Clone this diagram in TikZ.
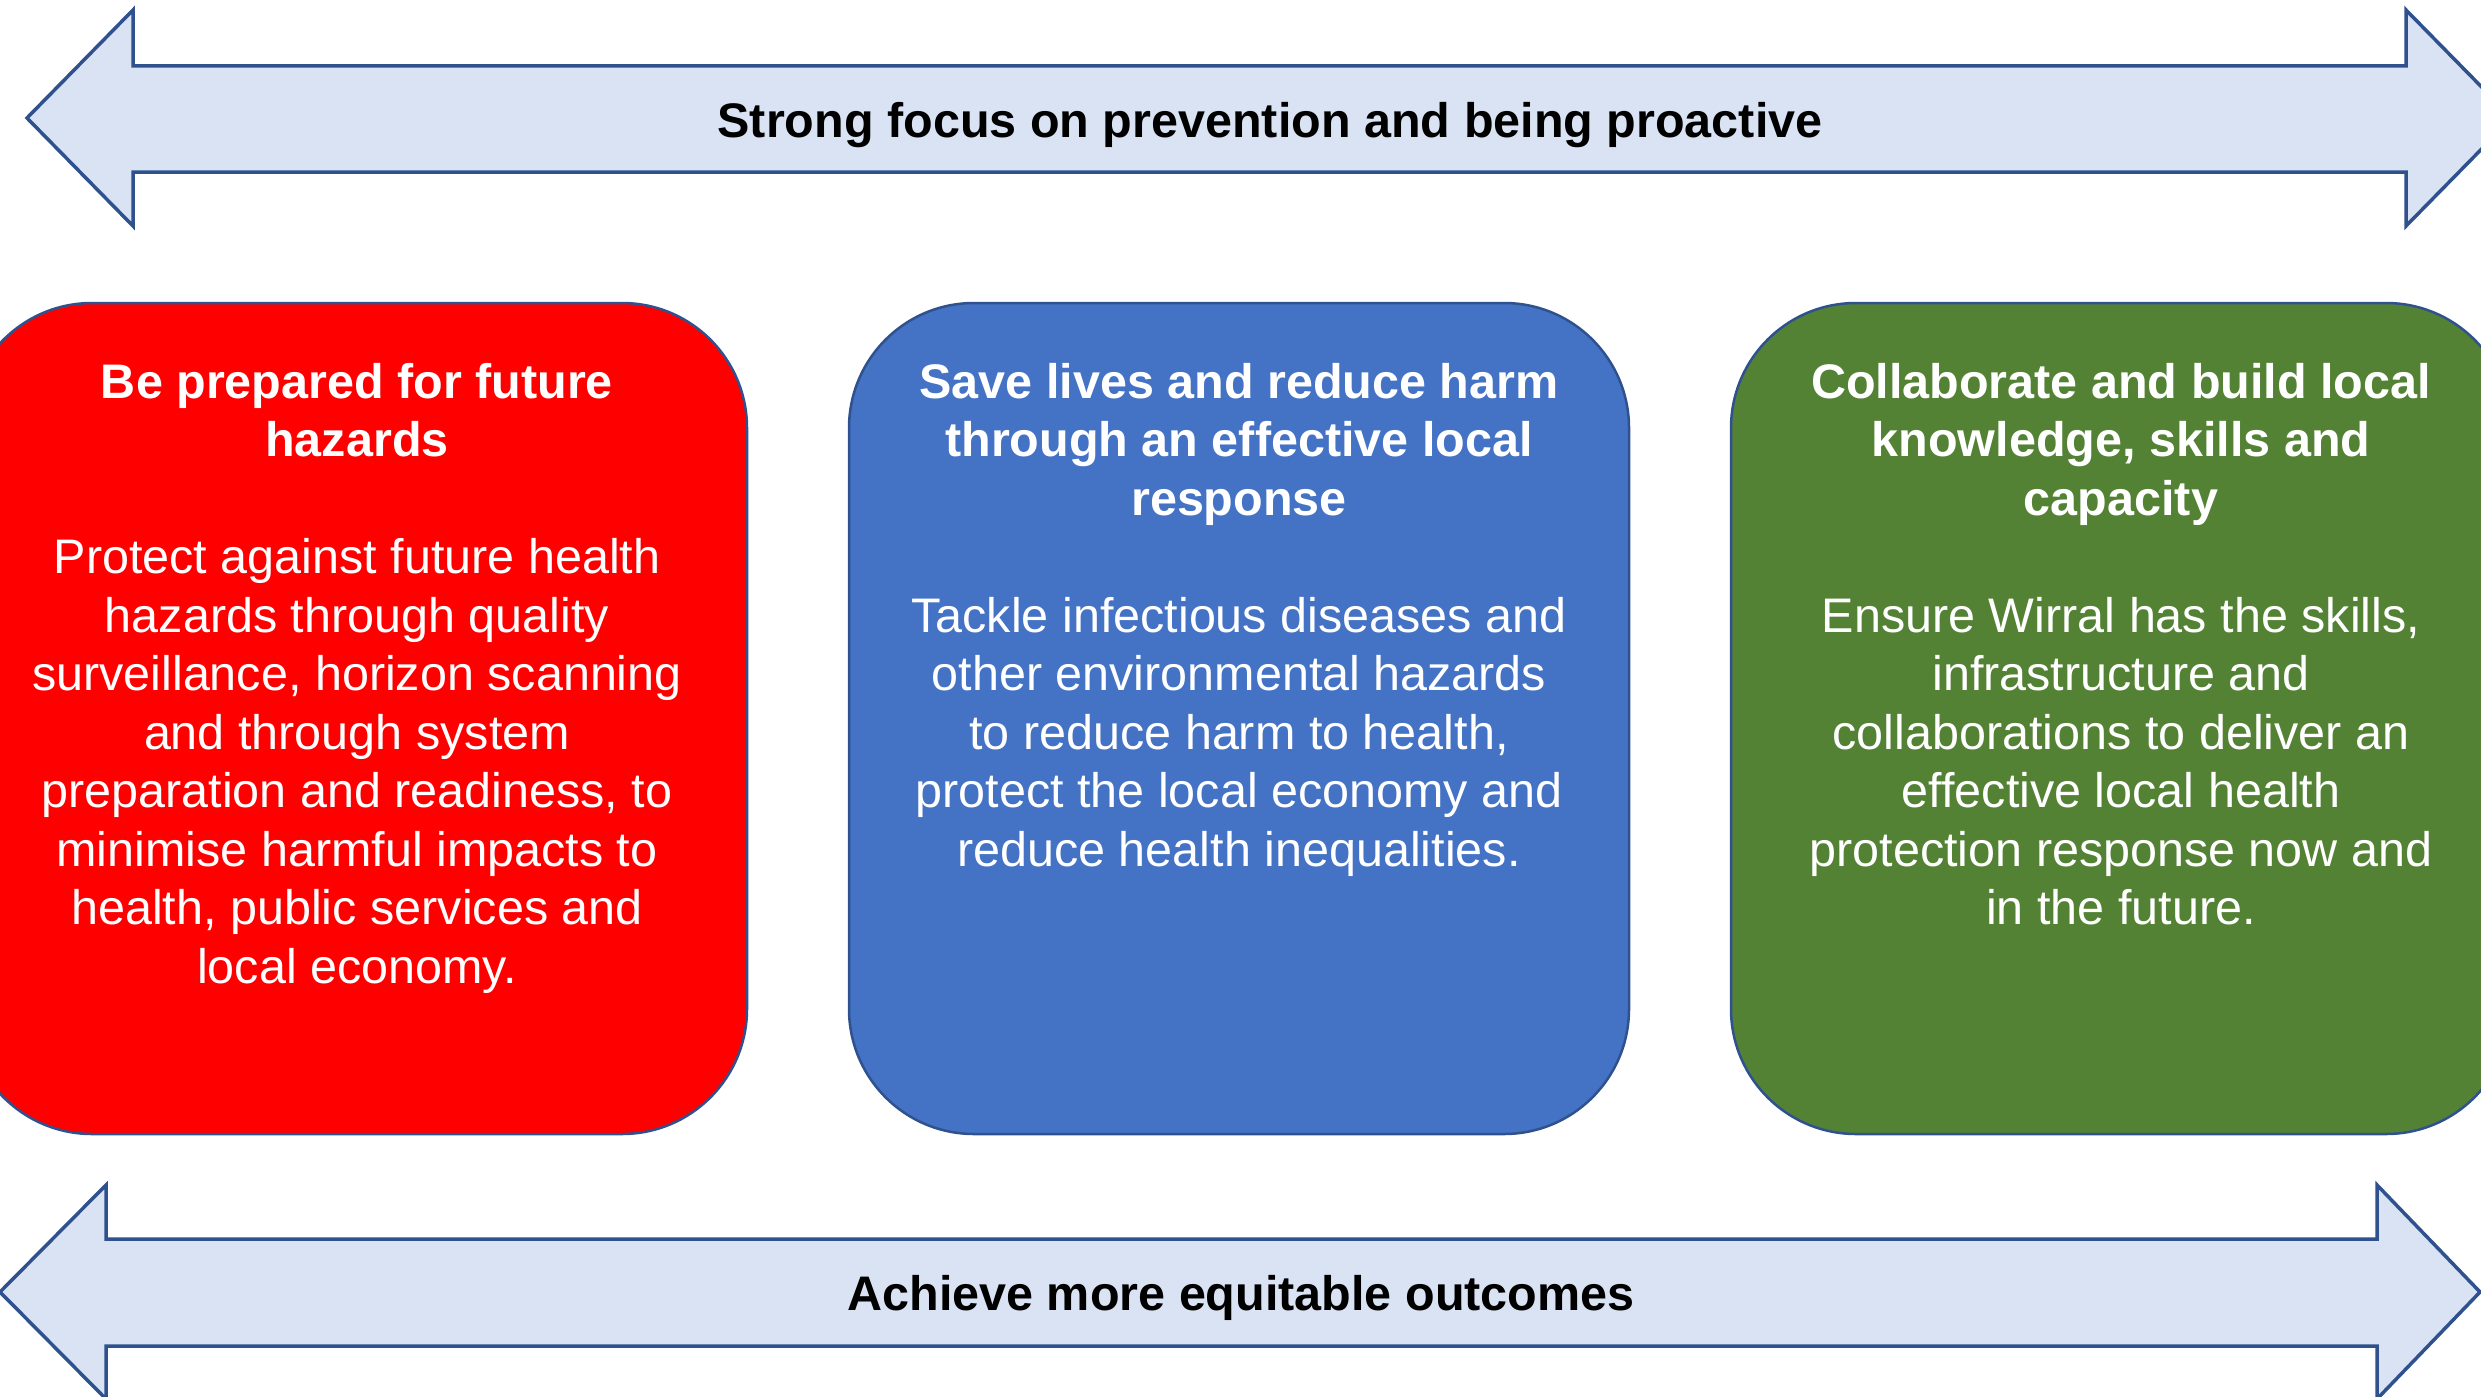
\documentclass[tikz,border=0pt]{standalone}
\usepackage{fontspec}
\setmainfont{Liberation Sans}
\definecolor{redbox}{HTML}{FF0000}
\definecolor{bluebox}{HTML}{4472C4}
\definecolor{greenbox}{HTML}{548235}
\definecolor{arrowfill}{HTML}{DAE3F3}
\definecolor{edgeblue}{HTML}{2F528F}
\tikzset{
  band/.style={fill=arrowfill, draw=edgeblue, line width=3.5pt, line join=miter},
  pillar/.style={draw=edgeblue, line width=2.5pt, rounded corners=125pt,
    minimum width=780pt, minimum height=831pt, inner sep=0pt},
  pillartext/.style={anchor=north, align=center, text=white, inner sep=0pt,
    font=\fontsize{48.5}{58.5}\selectfont},
  bandtext/.style={anchor=base, inner sep=0pt, text=black,
    font=\fontsize{48.5}{58.5}\selectfont\bfseries}
}
\begin{document}
\begin{tikzpicture}[x=1pt,y=-1pt]
\useasboundingbox (0,0) rectangle (2481,1397);
\clip (0,0) rectangle (2481,1397);
% top double arrow
\draw[band] (27,118) -- (133,10) -- (133,66) -- (2406,66) -- (2406,10) -- (2512,118)
  -- (2406,226) -- (2406,172) -- (133,172) -- (133,226) -- cycle;
\node[bandtext] (toptext) at (1270,137) {Strong focus on prevention and being proactive};
% bottom double arrow
\draw[band] (0,1292) -- (106,1185) -- (106,1239) -- (2377,1239) -- (2377,1185) -- (2480,1292)
  -- (2377,1399) -- (2377,1346) -- (106,1346) -- (106,1399) -- cycle;
\node[bandtext] (bottext) at (1241,1310) {Achieve more equitable outcomes};
% pillars
\node[pillar, fill=redbox] (red) at (357,718.5) {};
\node[pillar, fill=bluebox] (blue) at (1239,718.5) {};
\node[pillar, fill=greenbox] (green) at (2121,718.5) {};
\node[pillartext] (redtxt) at (357,357) {\strut\textbf{Be prepared for future}\\\textbf{hazards}\\[58.5pt]
Protect against future health\\hazards through quality\\surveillance, horizon scanning\\and through system\\preparation and readiness, to\\minimise harmful impacts to\\health, public services and\\local economy.};
\node[pillartext] (bluetxt) at (1239,357) {\strut\textbf{Save lives and reduce harm}\\\textbf{through an effective local}\\\textbf{response}\\[58.5pt]
Tackle infectious diseases and\\other environmental hazards\\to reduce harm to health,\\protect the local economy and\\reduce health inequalities.};
\node[pillartext] (greentxt) at (2121,357) {\strut\textbf{Collaborate and build local}\\\textbf{knowledge, skills and}\\\textbf{capacity}\\[58.5pt]
Ensure Wirral has the skills,\\infrastructure and\\collaborations to deliver an\\effective local health\\protection response now and\\in the future.};
\end{tikzpicture}
\end{document}
